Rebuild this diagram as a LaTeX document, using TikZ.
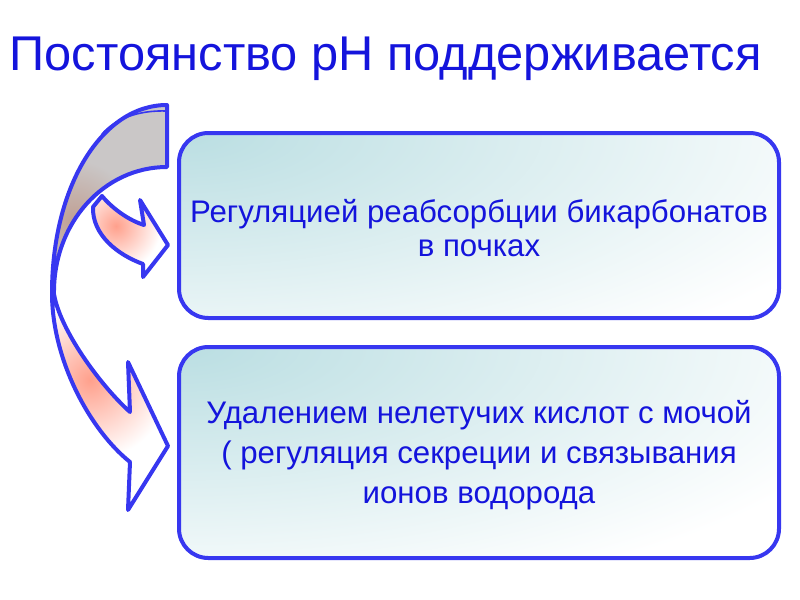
\documentclass[tikz,border=0pt]{standalone}
\usepackage{fontspec}
\setmainfont{Liberation Sans}
\definecolor{tealc}{RGB}{186,222,226}
\pgfdeclareradialshading{boxglow}{\pgfpoint{0bp}{0bp}}{color(0bp)=(tealc); color(20bp)=(white); color(50bp)=(white)}
\begin{document}
\begin{tikzpicture}[x=0.75pt,y=-0.75pt]
\definecolor{txtblue}{RGB}{20,20,220}
\definecolor{lineblue}{RGB}{55,55,240}
\definecolor{pinkc}{RGB}{255,160,140}
\definecolor{greyc}{RGB}{202,199,199}
\definecolor{browngrey}{RGB}{192,160,148}
\tikzset{
  box/.style={draw=lineblue, line width=3pt, rounded corners=22pt,
    minimum width=450pt, inner sep=0pt,
    path picture={\shade[shading=boxglow]
      (path picture bounding box.north west) ellipse (680pt and 250pt);}},
  boxtext/.style={text=txtblue, align=center},
  outline/.style={draw=lineblue, line width=3pt, line join=round}
}
\useasboundingbox (0,0) rectangle (800,600);
% title
\node[text=txtblue, font=\fontsize{36.6}{40}\selectfont, anchor=west] (title) at (5,59) {Постоянство рН поддерживается};
% boxes
\node[box, minimum height=138.75pt] (b1) at (479,225.5) {};
\node[box, minimum height=158.25pt] (b2) at (479,452.5) {};
\node[boxtext, font=\fontsize{23.4}{25.5}\selectfont] (t1) at ([yshift=-2pt]b1.center) {Регуляцией реабсорбции бикарбонатов\\в почках};
\node[boxtext, font=\fontsize{23.4}{30}\selectfont] (t2) at ([yshift=-2pt]b2.center) {Удалением нелетучих кислот с мочой\\( регуляция секреции и связывания\\ионов водорода};
% grey back face of the ribbon
\def\greypath{(167,105) .. controls (102,105) and (52,186) .. (52,293) -- (54,294) .. controls (53,223) and (104,167) .. (167,167) -- cycle}
\begin{scope}
\clip \greypath;
\fill[greyc] (0,90) rectangle (180,300);
\shade[inner color=browngrey, outer color=greyc] (74,220) circle (60);
\end{scope}
\draw[outline] \greypath;
\draw[lineblue, line width=1.2pt] (167,111) .. controls (138,110) and (115,119) .. (102,134);
% lower arrow
\def\lowpath{(52,293) .. controls (52,360) and (90,430) .. (130,462) -- (128,510) -- (168,446) -- (128,362) -- (130,412) .. controls (100,385) and (60,330) .. (54,294) -- cycle}
\begin{scope}
\clip \lowpath;
\fill[white] (40,280) rectangle (180,520);
\shade[inner color=pinkc, outer color=white] (90,380) circle (80);
\end{scope}
\draw[outline] \lowpath;
% upper arrow
\def\uppath{(102,196) .. controls (112,208) and (128,220) .. (144,225) -- (140,200) -- (168,245) -- (143,277) -- (143,264) .. controls (118,255) and (92,235) .. (93,207) -- cycle}
\begin{scope}
\clip \uppath;
\fill[white] (80,190) rectangle (180,285);
\shade[inner color=pinkc, outer color=white] (116,226) circle (45);
\end{scope}
\draw[outline] \uppath;
\end{tikzpicture}
\end{document}
